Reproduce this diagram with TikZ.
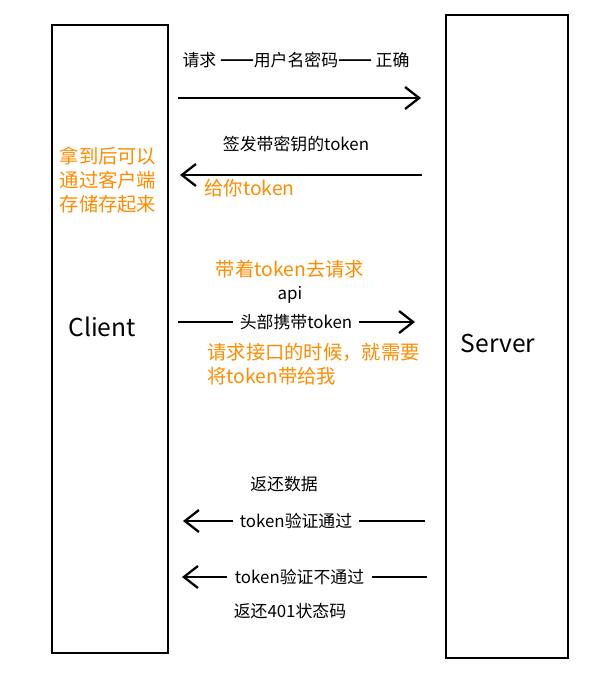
\documentclass[tikz,border=0pt]{standalone}
\usepackage{fontspec}
\setmainfont{Noto Sans CJK SC}
\usetikzlibrary{arrows.meta,positioning}
\definecolor{noteorange}{RGB}{255,140,0}
\newcommand{\longdash}{{\addfontfeature{RawFeature=+fwid,FakeBold=5}——}}

\begin{document}
\begin{tikzpicture}[
    x=0.02cm, y=-0.02cm,
    every node/.style={font=\fontsize{9.6}{11}\selectfont, inner sep=0pt},
    party/.style={rectangle, draw=black, line width=1.3pt, fill=white},
    partyname/.style={font=\fontsize{14}{16}\selectfont},
    msg/.style={font=\fontsize{9.6}{11}\selectfont, inner xsep=3.5pt},
    note/.style={text=noteorange, font=\fontsize{11}{13.8}\selectfont, align=left},
    wire/.style={line width=1.3pt},
    arrow/.style={-{Straight Barb[length=8pt, width=12.5pt]}, line width=1.3pt}
]
    \useasboundingbox (0,0) rectangle (597,680);

    % Client and Server
    \node[party, minimum width=2.32cm, minimum height=12.56cm] (client) at (110,339) {};
    \node[partyname] (clientname) at (102,327) {Client};
    \node[party, minimum width=2.44cm, minimum height=12.86cm] (server) at (507,336.5) {};
    \node[partyname] (servername) at (498,343) {Server};

    % Step 1: login
    \node[msg] (login) at (296,60) {请求 \longdash 用户名密码\longdash\ 正确};
    \coordinate (loginfrom) at (178,98);
    \coordinate (loginto) at (421,98);
    \draw[arrow] (loginfrom) -- (loginto);

    % Step 2: issue token
    \node[msg] (issue) at (296,144) {签发带密钥的token};
    \coordinate (issuefrom) at (422,175);
    \coordinate (issueto) at (180,175);
    \draw[arrow] (issuefrom) -- (issueto);
    \node[note, anchor=west] (give) at (204,188) {给你token};
    \node[note] (store) at (108,180) {拿到后可以\\通过客户端\\存储存起来};

    % Step 3: request with token
    \node[note] (carry) at (290,269) {带着token去请求};
    \node[msg] (api) at (290,295) {api};
    \node[msg] (header) at (296,322) {头部携带token};
    \coordinate (callfrom) at (178,322);
    \coordinate (callto) at (415,322);
    \draw[wire] (callfrom) -- (header.west);
    \draw[arrow] (header.east) -- (callto);
    \node[note, anchor=west] (ask) at (207,364) {请求接口的时候，就需要\\将token带给我};

    % Step 4: answers
    \node[msg] (back) at (284,484) {返还数据};
    \node[msg] (pass) at (296,521) {token验证通过};
    \coordinate (passfrom) at (425,521);
    \coordinate (passto) at (183,521);
    \draw[wire] (passfrom) -- (pass.east);
    \draw[arrow] (pass.west) -- (passto);

    \node[msg, inner xsep=4.5pt] (fail) at (299.5,577) {token验证不通过};
    \coordinate (failfrom) at (427,577);
    \coordinate (failto) at (182,577);
    \draw[wire] (failfrom) -- (fail.east);
    \draw[arrow] (fail.west) -- (failto);
    \node[msg] (code) at (290,611) {返还401状态码};
\end{tikzpicture}
\end{document}
